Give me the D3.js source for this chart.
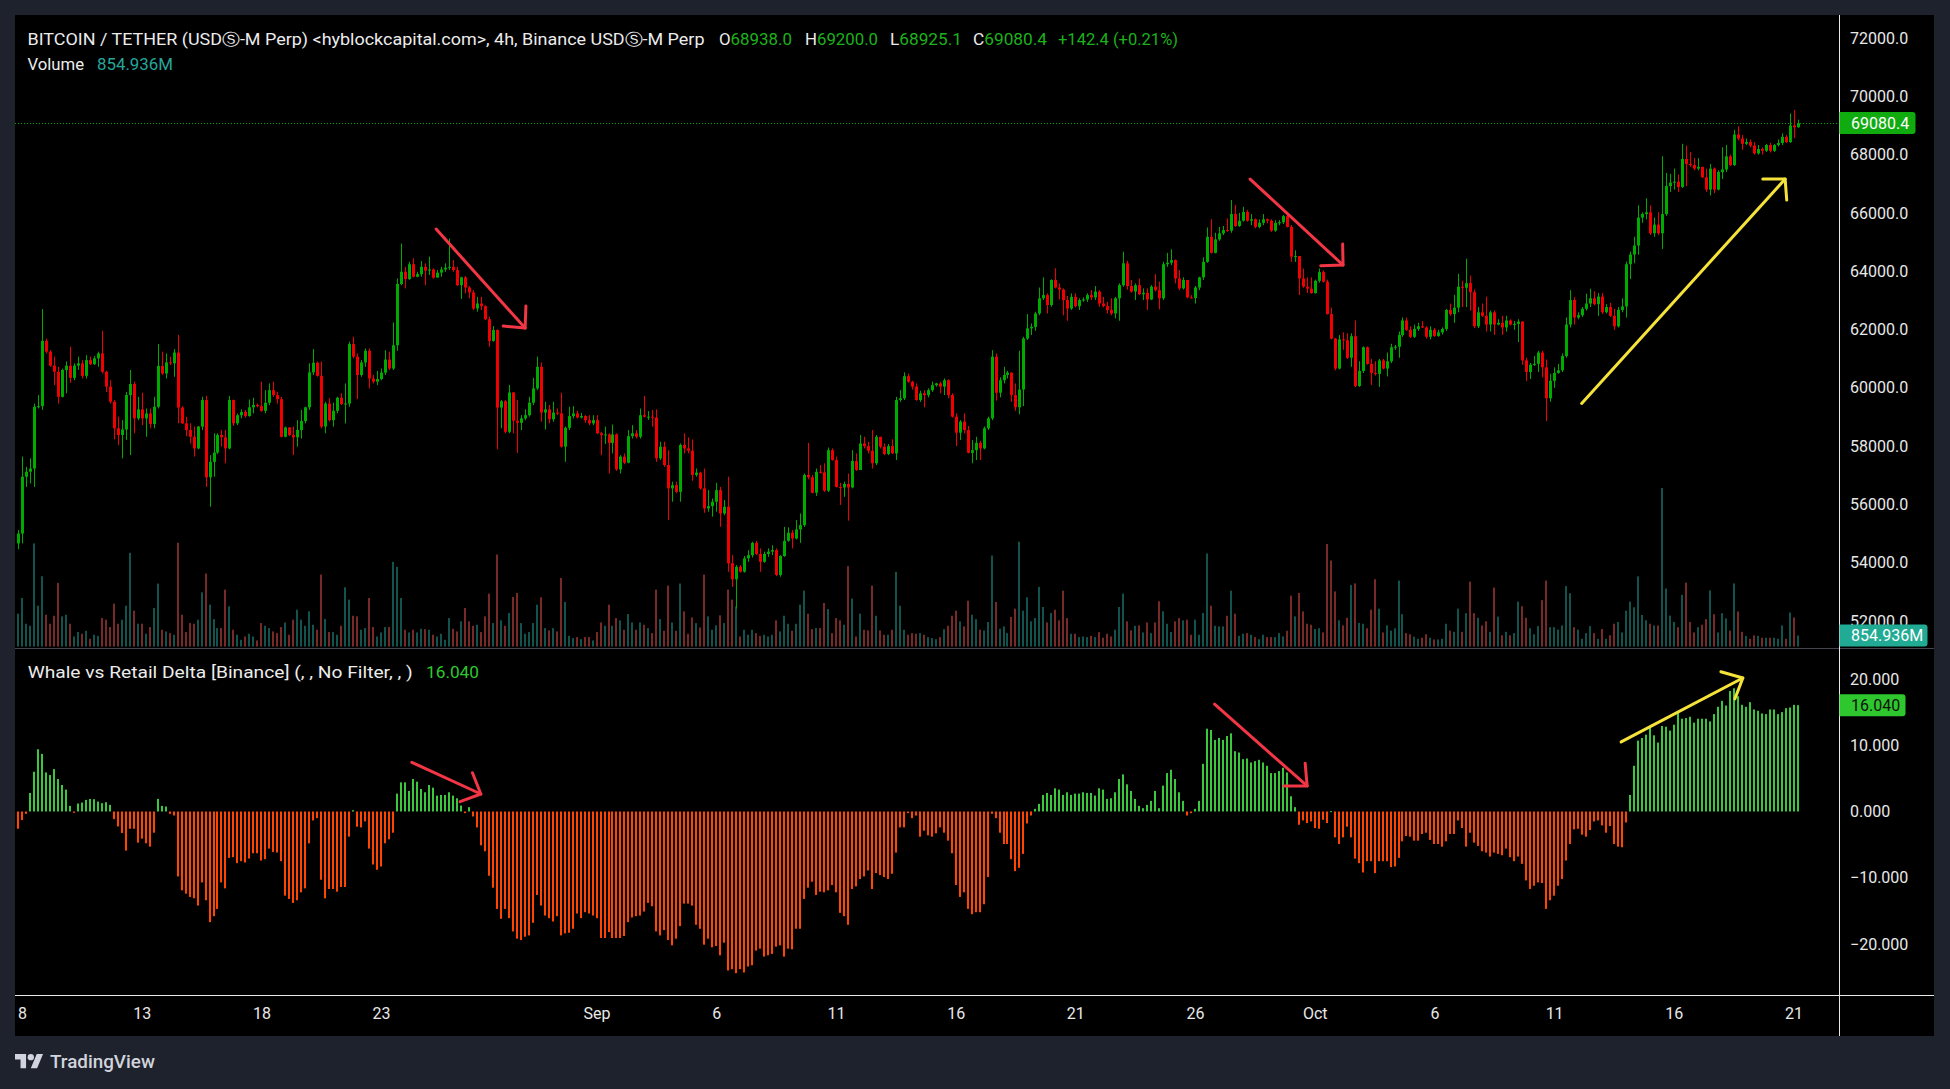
<!DOCTYPE html>
<html>
<head>
<meta charset="utf-8">
<script src="https://cdn.jsdelivr.net/npm/d3@7"></script>
<style>
  body { margin: 0; background: #1e222d; overflow: hidden; }
  svg { display: block; }
</style>
</head>
<body>
<svg id="chart" width="1950" height="1089"></svg>
<script>
// ---- data (4h candles, Aug 7 20:00 -> Oct 21 04:00) ----
// prices in hundreds of USDT
const firstOpenH = 546.6;
const closeH = [
550.0,569.5,571.2,572.3,593.5,593.7,616.1,612.4,607.6,605.5,
596.9,606.1,607.6,603.4,607.6,608.4,604.1,609.5,608.1,610.1,
611.8,605.5,600.4,595.2,586.1,583.8,585.7,597.5,601.3,589.5,
592.6,589.5,591.2,587.6,593.5,607.5,604.9,608.7,608.4,612.1,
593.2,587.8,585.5,583.2,579.2,586.7,595.8,569.3,574.6,577.8,
583.8,583.0,579.2,595.8,587.8,590.6,591.7,590.3,593.3,594.1,
593.7,592.1,594.9,599.2,597.5,596.1,583.2,586.4,583.8,583.0,
585.5,588.6,593.3,605.3,608.6,604.1,586.7,594.6,588.9,592.1,
596.6,594.4,594.6,615.0,610.7,604.4,608.7,612.7,603.2,602.1,
603.0,605.2,609.7,606.6,614.6,635.6,639.8,637.3,642.4,638.1,
639.0,641.5,640.2,640.6,637.8,639.5,640.6,641.2,641.5,640.4,
635.2,637.9,634.4,632.7,627.2,628.9,628.0,623.5,616.1,619.8,
593.2,595.4,584.9,598.4,588.7,588.0,589.5,590.6,594.9,599.8,
607.2,591.5,592.6,589.2,591.5,591.2,579.8,586.3,590.3,591.2,
589.8,590.3,588.9,587.8,588.9,584.4,583.8,584.0,581.1,584.0,
572.0,576.4,574.3,583.4,584.4,583.2,590.6,590.1,590.1,589.8,
575.8,579.8,573.5,565.5,566.6,564.3,580.4,579.2,578.4,570.1,
570.9,565.5,558.6,559.4,560.9,564.9,556.9,559.2,539.8,534.3,
538.6,536.9,541.5,542.6,546.8,543.0,540.3,543.0,543.8,544.3,
535.8,542.3,547.5,550.3,548.3,551.4,552.9,570.1,569.3,564.0,
571.2,571.0,564.7,578.6,575.2,566.0,565.8,567.0,565.8,574.9,
571.8,580.9,580.0,578.4,574.1,583.2,579.8,577.3,580.0,577.5,
595.8,596.4,604.0,602.1,600.4,595.8,598.1,597.5,599.2,600.9,
601.5,600.4,602.6,597.5,590.1,584.6,588.4,585.5,577.7,578.6,
581.1,579.2,586.1,589.5,610.7,598.3,602.6,604.4,605.2,597.5,
593.3,599.4,616.9,620.4,620.9,625.5,630.7,631.8,628.4,637.0,
634.4,633.7,630.1,627.2,631.2,628.0,630.1,630.3,631.8,631.0,
633.0,628.9,628.0,626.7,625.5,630.7,635.2,642.7,634.9,633.0,
635.2,632.1,632.6,630.3,634.7,633.5,630.7,642.4,642.9,643.8,
637.5,634.1,637.0,631.0,630.8,634.4,637.9,643.2,651.8,646.3,
650.9,653.0,654.1,653.9,659.6,655.5,657.3,660.3,657.3,657.8,
655.2,656.6,657.8,657.3,653.9,656.6,656.8,658.9,655.2,645.0,
645.2,637.5,634.7,634.0,632.5,636.7,639.7,636.4,625.3,616.9,
606.6,616.6,616.3,610.3,617.7,600.6,605.8,613.9,608.2,605.1,
604.8,609.4,606.6,609.1,613.9,614.1,618.1,623.1,619.9,617.5,
620.2,621.1,620.7,617.5,619.9,617.8,619.0,620.2,626.7,625.3,
627.5,634.7,634.3,635.9,632.8,621.1,625.9,624.7,621.7,625.9,
621.7,622.3,620.7,623.1,621.7,621.9,622.7,609.4,605.4,607.9,
608.2,612.1,607.0,596.4,602.4,605.1,606.0,610.9,621.7,630.1,
624.1,624.9,627.1,628.9,630.7,628.7,631.3,625.9,627.7,624.7,
621.1,626.7,627.9,642.4,645.7,648.8,658.4,659.6,660.2,653.0,
656.0,653.0,659.6,669.2,670.4,670.7,668.9,678.5,676.8,676.4,
675.2,675.8,672.2,668.0,675.2,668.0,674.0,674.9,679.4,676.4,
686.9,685.5,683.7,684.3,683.1,680.4,681.9,681.3,683.3,681.3,
683.3,684.0,686.1,684.3,690.0,689.38,690.804
];
const highH = [
551.2,576.4,572.9,575.8,594.6,597.5,627.0,616.9,612.9,610.7,
607.2,606.6,609.0,614.1,608.4,610.7,609.5,611.2,610.7,610.9,
612.4,619.5,605.8,602.6,595.8,590.1,588.9,598.6,606.1,602.1,
596.9,598.3,592.9,592.9,596.9,615.0,612.4,611.8,610.7,613.3,
618.1,593.7,590.1,587.8,586.7,586.9,596.9,597.2,576.9,584.4,
584.4,585.5,585.5,597.2,596.0,591.2,592.6,592.4,596.0,596.6,
594.6,602.1,599.2,601.5,602.1,598.6,596.9,586.7,586.1,586.7,
588.9,592.4,593.5,608.4,613.3,609.0,609.0,595.2,596.4,594.9,
596.9,598.1,601.5,615.8,617.5,611.8,609.5,613.5,613.5,604.4,
605.8,606.6,612.9,612.4,622.4,637.5,649.5,641.5,643.2,644.4,
639.8,643.5,642.7,645.0,641.0,640.4,641.5,642.7,651.2,643.8,
641.5,638.1,638.3,634.9,633.5,631.2,631.2,628.3,624.4,621.2,
620.1,595.8,595.8,601.0,598.6,595.8,590.6,592.6,596.9,603.4,
610.7,608.7,595.2,594.1,595.2,592.9,598.3,586.7,593.5,593.7,
592.1,591.4,590.6,590.6,590.6,590.6,584.9,586.7,584.4,587.4,
584.4,576.9,577.5,585.5,587.2,585.5,592.9,597.2,592.0,592.4,
592.6,581.5,581.5,578.6,567.8,567.8,580.9,584.4,583.0,582.3,
572.3,571.2,572.3,564.9,562.0,567.4,566.0,561.5,569.5,542.6,
539.2,539.2,542.3,544.3,547.2,547.5,544.9,543.8,544.9,546.0,
544.9,542.6,552.3,552.1,551.2,554.6,556.9,570.6,581.1,570.1,
572.3,573.5,574.1,579.5,579.2,576.4,567.4,567.8,570.6,578.6,
577.5,583.8,583.2,581.5,585.5,583.8,583.0,580.9,580.7,582.3,
596.9,599.2,605.3,604.9,602.4,601.5,599.0,599.2,599.8,602.1,
601.7,602.1,603.2,602.9,598.1,591.2,588.9,591.2,586.9,582.1,
583.2,581.8,586.7,590.1,612.9,611.8,603.6,607.2,605.8,604.4,
601.5,612.7,617.5,625.3,622.1,626.1,634.4,637.9,632.4,637.2,
641.0,635.8,634.1,631.5,632.4,632.4,630.7,631.0,632.4,633.5,
634.9,633.5,631.2,629.5,630.7,631.2,635.8,646.7,643.6,637.0,
635.8,637.5,634.1,634.1,635.2,639.0,636.4,643.2,646.3,647.5,
644.0,640.4,637.9,634.7,631.8,634.9,638.1,644.7,655.0,657.8,
653.2,655.2,655.5,658.1,664.4,662.7,660.0,662.1,661.0,659.6,
658.1,657.8,659.6,658.1,657.8,657.5,657.5,659.3,659.8,655.8,
647.2,645.2,640.9,637.9,637.9,637.1,640.9,640.3,637.1,627.5,
617.1,618.1,619.0,618.7,618.7,623.1,609.1,614.2,614.2,609.9,
609.1,609.9,609.9,612.1,615.1,614.7,619.3,624.1,624.1,621.1,
621.7,622.3,622.9,621.1,621.1,620.5,619.9,620.7,627.1,628.9,
631.9,639.1,636.7,644.3,638.5,633.7,627.7,628.9,631.3,626.5,
626.5,623.5,624.7,624.7,623.5,622.9,623.5,622.9,610.3,608.5,
610.9,612.7,612.7,609.7,604.8,607.0,608.2,611.8,624.1,633.5,
631.1,625.9,627.7,632.3,634.0,633.1,632.5,632.5,628.7,629.1,
627.1,627.7,630.7,643.3,646.7,651.8,662.6,660.2,665.0,662.6,
658.4,660.2,679.4,673.7,673.4,675.2,673.2,683.7,683.1,680.9,
678.8,678.8,675.8,675.2,676.8,675.6,674.6,682.5,683.3,680.0,
688.5,689.7,686.7,685.5,685.2,684.3,683.3,682.5,683.7,684.0,
683.6,685.2,687.3,686.7,694.1,695.3,692.0
];
const lowH = [
544.6,546.6,566.0,567.2,566.0,592.9,592.4,611.8,607.2,600.9,
594.6,596.7,598.1,601.7,602.6,606.1,603.2,603.2,607.8,607.8,
607.2,604.9,598.6,594.6,582.3,580.4,575.8,582.1,576.9,584.4,
588.9,587.2,583.2,586.1,586.1,592.9,604.4,603.2,607.8,603.8,
587.8,587.6,583.4,580.9,576.4,578.9,585.5,566.0,559.2,569.5,
577.3,579.8,574.1,578.9,586.9,587.2,589.5,589.8,590.1,591.2,
593.3,591.8,591.2,594.1,596.9,594.6,583.0,583.0,583.4,576.9,
579.8,582.6,587.8,592.4,604.4,603.8,586.1,584.4,588.4,586.7,
591.2,594.1,587.8,593.5,610.1,596.1,603.8,607.2,599.8,601.5,
600.9,602.6,604.4,606.1,606.1,612.7,635.2,634.1,637.0,637.9,
637.9,638.1,635.2,638.7,637.4,637.9,638.1,639.8,640.4,639.8,
634.9,630.5,632.4,630.7,626.7,626.1,626.7,623.2,614.1,615.8,
578.9,586.1,584.4,584.4,584.4,577.7,585.5,588.9,590.1,594.1,
599.2,588.4,585.7,587.8,588.4,590.6,579.5,574.6,585.5,589.5,
589.5,589.5,588.0,587.2,587.2,584.1,576.9,580.7,570.6,577.5,
571.5,570.6,573.8,574.1,582.6,582.6,582.6,589.8,589.0,586.7,
574.6,575.2,572.9,554.6,560.9,563.8,560.9,577.5,577.5,568.1,
569.5,565.1,557.1,557.5,555.8,557.5,552.3,556.3,536.9,531.7,
524.3,536.6,536.6,540.3,541.8,542.6,536.9,540.0,542.0,542.6,
535.4,535.2,542.0,547.2,544.9,548.0,546.8,552.3,568.6,563.8,
562.9,570.6,564.3,564.3,575.0,565.8,559.8,562.6,554.4,565.5,
571.5,571.8,579.2,577.5,572.3,573.5,579.2,576.9,576.9,577.3,
575.2,595.2,595.8,601.7,599.4,595.6,595.2,593.3,596.7,598.6,
600.4,598.1,597.5,596.4,589.8,580.0,582.1,584.4,577.5,574.1,
575.2,575.2,578.9,585.5,588.9,595.6,596.7,601.5,603.2,595.2,
592.1,590.9,593.7,616.4,618.1,619.6,624.9,630.1,625.5,627.8,
634.1,630.3,624.9,623.0,626.7,627.6,626.7,629.5,629.5,630.1,
630.1,627.8,627.6,625.5,624.9,623.8,623.0,634.7,633.7,632.6,
630.1,631.8,630.1,626.7,630.1,633.0,626.9,630.1,641.5,642.1,
635.8,633.5,633.7,630.7,630.7,628.9,633.5,637.0,642.9,646.1,
646.1,650.4,652.4,653.5,653.2,655.2,655.2,657.0,657.0,655.8,
654.7,654.7,655.8,656.4,653.5,653.5,655.8,656.2,655.0,643.2,
643.2,631.8,634.3,632.5,632.3,632.3,636.1,636.1,625.1,616.6,
606.0,606.3,613.0,609.9,607.2,600.3,600.3,605.1,607.9,601.0,
604.2,600.3,606.3,603.9,608.5,613.0,610.3,617.5,619.5,617.1,
617.1,619.5,620.5,616.9,616.6,617.5,617.5,618.3,619.5,624.7,
622.3,625.9,627.7,627.7,626.5,620.5,620.5,624.3,619.3,619.3,
618.1,621.4,618.1,619.3,621.4,619.9,615.7,607.9,602.4,603.0,
607.5,605.4,603.6,588.6,595.2,600.0,604.8,605.4,610.3,620.7,
621.7,623.5,624.3,626.5,627.7,628.3,624.7,625.3,625.5,624.3,
619.9,620.7,625.9,624.1,637.3,642.7,645.7,656.6,657.8,652.4,
651.8,652.4,647.6,659.0,667.2,668.0,667.2,668.6,669.2,675.8,
674.6,674.6,672.0,667.2,666.0,666.8,667.7,671.6,674.0,676.1,
676.1,684.9,681.6,683.3,682.5,680.0,680.0,680.0,680.9,680.7,
680.9,682.8,683.3,684.0,684.0,685.7,689.251
];
// volume in millions
const volumeM = [
2550,3770,1770,1610,8010,3170,5460,2470,1770,2390,
4940,2340,2470,1770,780,1120,990,1220,600,910,
830,2210,2080,1510,3330,1770,2080,3170,7280,2780,
1770,1770,990,1510,2990,4890,1300,1170,1040,910,
8060,2470,1120,1820,1770,2080,4210,5670,3250,2130,
1430,1430,4420,3120,1300,910,520,780,990,780,
470,1820,1610,1430,1170,1040,1510,1870,910,2080,
2860,2080,1610,2730,1690,1300,5590,2130,1120,1120,
910,1610,4600,3640,2390,2340,1300,1430,3770,1510,
780,1090,1510,1510,6580,6190,3770,1300,1090,1300,
1090,1380,1350,1300,910,780,990,520,2210,1380,
1170,1950,2990,1950,1610,1690,1120,2340,4110,1820,
7150,2030,1610,2600,3850,4160,1820,990,1120,1820,
3250,3820,1430,1250,1430,1170,5330,3460,830,650,
730,570,730,730,470,1120,1870,1610,3250,1610,
2210,2030,1300,2520,1870,1300,1870,1690,1430,1040,
4420,2130,1220,4730,1870,1220,4890,2730,990,2260,
1820,1480,5590,2340,1300,1640,2420,1820,4420,3640,
3120,780,1300,910,1300,1040,830,910,780,910,
2030,1170,2390,1770,1220,1770,3250,4340,2550,1350,
1430,1430,3380,2910,1040,2210,2030,1690,6240,3720,
780,2550,1300,1250,4730,2390,1250,910,910,1300,
5800,3170,1300,910,1040,990,1040,910,730,650,
570,730,1350,1610,2390,2780,1950,1560,3560,2470,
2130,1300,1250,1900,7070,3460,1380,1560,1040,2290,
2940,8140,2780,3820,1950,2210,4630,3070,1870,2600,
2860,2030,4340,2210,990,990,730,780,730,830,
730,1120,680,990,780,1300,3070,4110,1950,1250,
1610,1640,1090,1870,1040,1870,3510,2730,1770,1120,
1950,2210,2030,2080,910,2080,910,2600,7230,3170,
1610,1560,1560,2390,4340,2550,830,990,1040,910,
730,570,910,730,730,730,1040,780,1220,3950,
2340,4160,2725,1770,1690,1360,1420,1090,7960,6680,
4280,2040,1640,2230,4770,4900,1830,1770,1420,2860,
5230,2940,1090,1640,1230,1420,5120,2510,1040,950,
760,600,680,950,680,545,545,600,1770,1230,
1140,2940,1140,2590,5040,2590,2230,1640,1960,1140,
4580,2320,870,1140,870,1040,3490,3130,2230,1420,
950,1580,3600,5120,1500,1500,1310,1640,4690,4140,
1500,1310,600,1040,1580,1040,600,1360,600,870,
1770,1910,1090,2780,3490,3050,5450,2450,2040,1770,
1640,1640,12320,4500,2400,1910,1500,4010,4960,1910,
1090,1500,1690,2130,4360,2510,1090,2590,2180,1230,
4900,2725,1140,820,600,870,820,680,680,680,
680,600,1640,600,2640,2260,854.936
];
// Whale vs Retail Delta
const deltaVals = [
-2.6,-1.3,-0.35,2.8,6.0,9.4,8.7,5.9,5.5,6.4,
4.9,4.0,3.3,0.85,-0.2,1.2,1.35,1.75,1.9,1.85,
1.5,1.25,1.4,1.0,-1.15,-2.25,-3.25,-5.9,-2.6,-2.6,
-4.7,-4.1,-4.8,-5.3,-3.2,1.9,0.85,0.75,-0.35,-0.6,
-9.8,-11.9,-12.4,-12.9,-13.1,-14.2,-10.7,-13.4,-16.7,-15.8,
-14.7,-10.7,-11.6,-7.0,-6.9,-7.8,-7.5,-7.7,-7.1,-6.3,
-6.3,-7.4,-7.2,-5.6,-6.1,-6.2,-7.5,-12.7,-13.2,-13.8,
-13.4,-12.2,-11.6,-4.8,-1.35,-1.0,-10.3,-13.1,-11.7,-11.7,
-12.1,-11.4,-11.4,-3.8,0.2,-2.3,-2.4,-1.5,-5.6,-8.0,
-8.8,-8.3,-4.8,-4.2,-3.2,2.7,4.4,4.4,3.1,4.9,
4.5,3.4,2.9,4.0,3.6,2.4,2.5,2.5,2.9,2.4,
2.0,0.9,-0.25,0.65,-0.75,-2.4,-5.1,-6.0,-9.7,-11.5,
-14.7,-16.2,-14.7,-16.1,-18.1,-19.2,-19.4,-18.9,-18.7,-16.8,
-12.6,-14.2,-15.7,-16.1,-16.6,-15.8,-18.7,-18.4,-18.3,-17.7,
-15.4,-16.1,-15.2,-15.4,-15.7,-16.1,-19.1,-19.1,-18.2,-19.1,
-19.1,-19.1,-18.8,-16.7,-16.0,-15.8,-15.7,-15.1,-13.8,-14.3,
-18.1,-18.7,-17.9,-19.4,-20.2,-19.2,-17.3,-13.9,-13.9,-14.2,
-17.1,-17.7,-20.1,-19.2,-20.5,-20.3,-21.7,-19.8,-24.0,-23.8,
-24.4,-23.8,-24.3,-23.4,-23.2,-21.0,-20.7,-21.9,-21.7,-21.5,
-20.4,-20.2,-21.9,-20.7,-20.8,-17.7,-17.7,-13.2,-11.5,-10.6,
-12.6,-12.1,-12.2,-11.9,-11.1,-12.2,-15.3,-15.8,-17.1,-11.7,
-11.3,-10.2,-9.8,-8.9,-11.7,-9.3,-9.6,-9.9,-10.2,-9.4,
-6.2,-2.4,-2.4,-0.25,-1.0,-0.6,-3.8,-2.9,-3.6,-3.8,
-3.3,-2.4,-3.2,-4.4,-6.3,-11.1,-12.9,-12.2,-14.7,-15.5,
-15.2,-15.2,-14.0,-9.9,-0.35,-1.0,-3.2,-4.9,-4.9,-7.2,
-9.0,-8.5,-6.4,-1.8,-0.6,0.4,1.15,2.5,2.8,2.5,
3.5,3.3,2.5,2.9,2.5,2.7,2.7,2.9,2.8,2.8,
2.4,3.5,3.3,1.9,2.0,2.9,4.9,5.6,4.1,3.1,
1.9,0.85,0.5,1.0,1.6,3.1,0.5,3.9,5.8,6.3,
4.9,2.9,1.6,-0.6,-0.25,0.4,1.6,7.2,12.5,12.3,
10.8,11.1,10.8,11.4,11.8,9.1,8.9,7.9,8.0,7.4,
7.6,7.8,7.4,6.9,5.8,5.8,6.1,6.6,5.9,2.3,
0.65,-2.0,-1.35,-1.75,-1.5,-2.5,-2.6,-1.25,-1.75,0.05,
-3.9,-4.9,-3.9,-2.3,-3.9,-7.1,-7.8,-9.2,-7.5,-7.5,
-9.3,-7.5,-7.5,-7.5,-8.4,-8.3,-7.0,-4.5,-3.7,-3.8,
-4.4,-4.4,-3.4,-3.2,-4.3,-4.9,-4.9,-5.3,-4.5,-3.4,
-3.4,-1.35,-2.5,-5.3,-3.2,-4.7,-5.2,-6.0,-6.2,-6.8,
-6.2,-6.4,-6.6,-5.6,-6.9,-7.5,-6.8,-7.9,-10.4,-11.7,
-11.2,-10.7,-10.8,-14.7,-13.4,-12.7,-11.2,-10.2,-7.4,-4.9,
-2.7,-2.6,-3.5,-3.8,-2.8,-1.5,-1.35,-2.1,-3.2,-2.2,
-4.9,-5.3,-5.4,-1.65,2.5,6.9,10.7,11.1,11.6,12.6,
11.5,10.4,12.9,12.8,12.2,13.1,14.9,14.0,14.1,14.3,
13.4,14.0,14.0,14.0,13.6,14.7,15.8,16.7,16.0,18.2,
18.6,17.4,16.1,15.8,16.5,15.4,15.2,14.8,14.7,15.4,
15.4,14.7,15.0,15.6,15.7,16.1,16.04
];

// time axis: candle index of each labelled day (00:00) and its label
const timeTickIdx = [1, 31, 61, 91, 145, 175, 205, 235, 265, 295, 325, 355, 385, 415, 445];
const timeTickLabels = ["8","13","18","23","Sep","6","11","16","21","26","Oct","6","11","16","21"];
const priceTicks = [52000,54000,56000,58000,60000,62000,64000,66000,68000,70000,72000];
const deltaTicks = [-20,-10,0,10,20];

// hand drawn arrows: [candle index, value]
const priceArrows = [
  { color: "#f23645", line: [[104.8, 65444], [127.1, 62048]], head: [[127.3, 62803], [127.1, 62048], [121.6, 62117]] },
  { color: "#f23645", line: [[308.8, 67160], [332.1, 64210]], head: [[332.0, 64930], [332.1, 64210], [326.5, 64189]] },
  { color: "#f5e33a", line: [[391.9, 59462], [442.9, 67160]], head: [[437.3, 67160], [442.9, 67160], [443.3, 66440]] }
];
const deltaArrows = [
  { color: "#f23645", line: [[98.7, 7.43], [116.0, 2.64]], head: [[113.9, 5.86], [116.0, 2.64], [110.8, 1.48]] },
  { color: "#f23645", line: [[299.9, 16.2], [323.1, 3.85]], head: [[322.6, 7.3], [323.1, 3.85], [317.3, 3.85]] },
  { color: "#f5e33a", line: [[401.8, 10.5], [432.3, 20.15]], head: [[426.8, 21.1], [432.3, 20.15], [430.3, 17.0]] }
];

const titleText = "BITCOIN / TETHER (USD\u24C8-M Perp) <hyblockcapital.com>, 4h, Binance USD\u24C8-M Perp";
const ohlcLegend = [["O", "68938.0"], ["H", "69200.0"], ["L", "68925.1"], ["C", "69080.4"]];
const changeText = "+142.4 (+0.21%)";
const lastVolumeText = "854.936M";
const deltaTitle = "Whale vs Retail Delta [Binance] (, , No Filter, , )";
const lastDeltaText = "16.040";

// ---- layout ----
const W = 1950, H = 1089;
const paneL = 15, paneR = 1934, paneT = 15, paneB = 1036;
const axisX = 1839.5, paneSep = 648, timeY = 995;
const font = "Roboto, 'Noto Sans', 'DejaVu Sans', sans-serif";

const upCol = "#00ab00", downCol = "#f00000";
const volUp = "#26a69a", volDown = "#ef5350";
const deltaUp = "#3cc83c", deltaDown = "#ff4500";

const svg = d3.select("#chart");
svg.append("rect").attr("width", W).attr("height", H).attr("fill", "#1e222d");
svg.append("rect").attr("x", paneL).attr("y", paneT).attr("width", paneR - paneL).attr("height", paneB - paneT).attr("fill", "#000");

const defs = svg.append("defs");
defs.append("clipPath").attr("id", "clipPrice").append("rect")
  .attr("x", paneL).attr("y", paneT).attr("width", axisX - paneL).attr("height", paneSep - paneT);
defs.append("clipPath").attr("id", "clipDelta").append("rect")
  .attr("x", paneL).attr("y", paneSep).attr("width", axisX - paneL).attr("height", timeY - paneSep);

const x = d3.scaleLinear().domain([0, closeH.length - 1]).range([18, 1797.5]);
const yP = d3.scaleLinear().domain([52000, 72000]).range([621, 38]);
const yV = d3.scaleLinear().domain([0, 12500]).range([646.5, 646.5 - 12500 / 77.7]);
const yD = d3.scaleLinear().domain([-20, 20]).range([944, 679]);

const candles = closeH.map(function(c, i) {
  const o = (i === 0 ? firstOpenH : closeH[i - 1]) * 100;
  const cl = c * 100;
  return {
    i: i, o: o, c: cl,
    h: Math.max(highH[i] * 100, o, cl),
    l: Math.min(lowH[i] * 100, o, cl),
    v: volumeM[i], d: deltaVals[i],
    up: cl >= o
  };
});
const px = function(i) { return Math.round(x(i)); };

// ---- price pane ----
const pricePane = svg.append("g").attr("clip-path", "url(#clipPrice)");

pricePane.selectAll(".vol").data(candles).enter().append("rect")
  .attr("class", "vol")
  .attr("x", function(d) { return px(d.i) - 1; })
  .attr("width", 2)
  .attr("y", function(d) { return yV(d.v); })
  .attr("height", function(d) { return yV(0) - yV(d.v); })
  .attr("fill", function(d) { return d.up ? volUp : volDown; })
  .attr("fill-opacity", 0.5);

// last price dotted line
const lastY = Math.round(yP(candles[candles.length - 1].c)) + 0.5;
pricePane.append("line")
  .attr("x1", paneL).attr("x2", axisX).attr("y1", lastY).attr("y2", lastY)
  .attr("stroke", upCol).attr("stroke-dasharray", "1,2");

const cg = pricePane.selectAll(".candle").data(candles).enter().append("g").attr("class", "candle");
cg.append("line")
  .attr("x1", function(d) { return px(d.i) + 0.5; })
  .attr("x2", function(d) { return px(d.i) + 0.5; })
  .attr("y1", function(d) { return yP(d.h); })
  .attr("y2", function(d) { return yP(d.l); })
  .attr("stroke", function(d) { return d.up ? upCol : downCol; })
  .attr("stroke-width", 1);
cg.append("rect")
  .attr("x", function(d) { return px(d.i) - 1; })
  .attr("width", 3)
  .attr("y", function(d) { return yP(Math.max(d.o, d.c)); })
  .attr("height", function(d) { return Math.max(1, Math.abs(yP(d.o) - yP(d.c))); })
  .attr("fill", function(d) { return d.up ? upCol : downCol; });

// ---- delta pane ----
const deltaPane = svg.append("g").attr("clip-path", "url(#clipDelta)");
deltaPane.selectAll(".dbar").data(candles).enter().append("rect")
  .attr("class", "dbar")
  .attr("x", function(d) { return px(d.i) - 1; })
  .attr("width", 2)
  .attr("y", function(d) { return Math.min(yD(d.d), yD(0)); })
  .attr("height", function(d) { return Math.max(1, Math.abs(yD(d.d) - yD(0))); })
  .attr("fill", function(d) { return d.d >= 0 ? deltaUp : deltaDown; });

// ---- arrows ----
function drawArrows(g, arrows, yScale) {
  const line = d3.line().x(function(p) { return x(p[0]); }).y(function(p) { return yScale(p[1]); });
  arrows.forEach(function(a) {
    [a.line, a.head].forEach(function(pts) {
      g.append("path").attr("d", line(pts))
        .attr("fill", "none").attr("stroke", a.color).attr("stroke-width", 3)
        .attr("stroke-linecap", "round").attr("stroke-linejoin", "round");
    });
  });
}
drawArrows(svg.append("g"), priceArrows, yP);
drawArrows(svg.append("g"), deltaArrows, yD);

// ---- separators ----
svg.append("line").attr("x1", paneL).attr("x2", paneR).attr("y1", paneSep + 0.5).attr("y2", paneSep + 0.5)
  .attr("stroke", "#434651");
svg.append("line").attr("x1", paneL).attr("x2", paneR).attr("y1", timeY + 0.5).attr("y2", timeY + 0.5)
  .attr("stroke", "#e8e8e8");
svg.append("line").attr("x1", axisX).attr("x2", axisX).attr("y1", paneT).attr("y2", paneB)
  .attr("stroke", "#e8e8e8");

// ---- axes ----
const axisFont = "16px";
const pAxis = svg.append("g").attr("transform", "translate(" + axisX + ",0)")
  .call(d3.axisRight(yP).tickValues(priceTicks).tickFormat(d3.format(".1f")).tickSize(0).tickPadding(10.5));
const dAxis = svg.append("g").attr("transform", "translate(" + axisX + ",0)")
  .call(d3.axisRight(yD).tickValues(deltaTicks).tickFormat(d3.format(".3f")).tickSize(0).tickPadding(10.5));
const tAxis = svg.append("g").attr("transform", "translate(0," + timeY + ")")
  .call(d3.axisBottom(x).tickValues(timeTickIdx).tickFormat(function(d, i) { return timeTickLabels[i]; }).tickSize(0));
[pAxis, dAxis, tAxis].forEach(function(a) {
  a.select(".domain").remove();
  a.selectAll("text").attr("fill", "#e8e8e8").style("font-family", font).style("font-size", axisFont);
});
tAxis.selectAll("text").attr("y", 18).attr("dy", "0.35em");

// ---- last value labels ----
function valueLabel(y, w, bg, fg, txt) {
  const g = svg.append("g");
  g.append("path")
    .attr("d", "M" + axisX + "," + (y - 11) + "h" + (w - 3) + "a3,3 0 0 1 3,3v16a3,3 0 0 1 -3,3h" + (-(w - 3)) + "z")
    .attr("fill", bg);
  g.append("text").attr("x", axisX + 11.5).attr("y", y).attr("dy", "0.35em")
    .attr("fill", fg).style("font-family", font).style("font-size", axisFont).text(txt);
}
const last = candles[candles.length - 1];
valueLabel(yP(last.c), 76, "#0fab0f", "#ffffff", d3.format(".1f")(last.c));
valueLabel(yV(last.v), 88, "#22ab94", "#ffffff", lastVolumeText);
valueLabel(yD(last.d), 66, "#2ec82e", "#111111", lastDeltaText);

// ---- legends (each text squeezed to the width it takes in the original) ----
const legend = svg.append("g").style("font-family", font).style("font-size", "16px");
function legendText(xPos, yPos, width, parts) {
  const t = legend.append("text").attr("x", xPos).attr("y", yPos)
    .attr("textLength", width).attr("lengthAdjust", "spacingAndGlyphs");
  parts.forEach(function(p) { t.append("tspan").attr("fill", p[1]).text(p[0]); });
  return t;
}
const white = "#ececec", green = "#1cb21c";
legendText(27.5, 44.5, 677, [[titleText, white]]);
const ohlcX = [[719, 73], [805, 73], [890, 72], [973, 74]];
ohlcLegend.forEach(function(p, k) {
  legendText(ohlcX[k][0], 44.5, ohlcX[k][1], [[p[0], white], [p[1], green]]);
});
legendText(1058, 44.5, 120, [[changeText, green]]);
legendText(27.5, 69.5, 56.5, [["Volume", white]]);
legendText(97, 69.5, 76, [[lastVolumeText, "#26a69a"]]);
legendText(27.7, 677.5, 385, [[deltaTitle, white]]);
legendText(426, 677.5, 53, [[lastDeltaText, "#2ec82e"]]);

// ---- TradingView mark ----
const logo = svg.append("g").attr("transform", "translate(15," + (1054 - 4 * 0.79) + ") scale(0.79)").attr("fill", "#d1d4dc");
logo.append("path").attr("d", "M14 22H7V11H0V4h14v18z");
logo.append("path").attr("d", "M28 22h-8l7.5-18h8L28 22z");
logo.append("circle").attr("cx", 20).attr("cy", 8).attr("r", 4);
const tv = svg.append("text").attr("x", 50).attr("y", 1068).attr("fill", "#d1d4dc")
  .style("font-family", font).style("font-weight", 500).style("font-size", "18px").text("TradingView");
tv.style("font-size", (18 * 105 / tv.node().getComputedTextLength()) + "px");
</script>
</body>
</html>
